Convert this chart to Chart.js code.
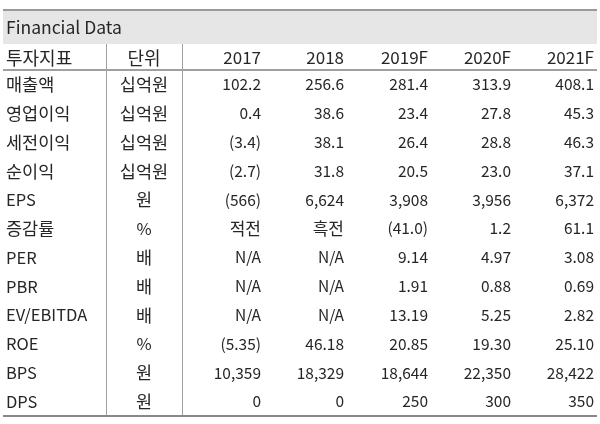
<!DOCTYPE html>
<html>
<head>
<meta charset="utf-8">
<script src="https://cdn.jsdelivr.net/npm/chart.js@4"></script>
<style>
  html, body { margin: 0; padding: 0; background: #ffffff; }
  #wrap { width: 600px; height: 424px; position: relative; }
</style>
</head>
<body>
<div id="wrap"><canvas id="c"></canvas></div>
<script>
// ---- data ----
const title = 'Financial Data';
const headerLabels = ['투자지표', '단위'];
const years = ['2017', '2018', '2019F', '2020F', '2021F'];
const metrics = ['매출액', '영업이익', '세전이익', '순이익', 'EPS', '증감률', 'PER', 'PBR', 'EV/EBITDA', 'ROE', 'BPS', 'DPS'];
const units = ['십억원', '십억원', '십억원', '십억원', '원', '%', '배', '배', '배', '%', '원', '원'];
const decimals = [1, 1, 1, 1, 0, 1, 2, 2, 2, 2, 0, 0];
const v2017 = [102.2, 0.4, -3.4, -2.7, -566, '적전', null, null, null, -5.35, 10359, 0];
const v2018 = [256.6, 38.6, 38.1, 31.8, 6624, '흑전', null, null, null, 46.18, 18329, 0];
const v2019F = [281.4, 23.4, 26.4, 20.5, 3908, -41.0, 9.14, 1.91, 13.19, 20.85, 18644, 250];
const v2020F = [313.9, 27.8, 28.8, 23.0, 3956, 1.2, 4.97, 0.88, 5.25, 19.30, 22350, 300];
const v2021F = [408.1, 45.3, 46.3, 37.1, 6372, 61.1, 3.08, 0.69, 2.82, 25.10, 28422, 350];
const seriesValues = [v2017, v2018, v2019F, v2020F, v2021F];

// ---- layout / style (not data) ----
const FONT = '"Noto Sans CJK KR", "Noto Sans", sans-serif';
const TEXT = '#262626';
const layoutX = { left: 3, right: 597, labelX: 6, unitCenter: 144, sep1: 106, sep2: 182, yearRight: [261, 344, 428, 511, 594] };
const HANGUL = /[\uac00-\ud7a3]/;

function fmt(v, d) {
  if (v === null) return 'N/A';
  if (typeof v === 'string') return v;
  const s = Math.abs(v).toLocaleString('en-US', { minimumFractionDigits: d, maximumFractionDigits: d });
  return v < 0 ? '(' + s + ')' : s;
}
function setFont(ctx, text, latinSize, hangulSize) {
  ctx.font = (HANGUL.test(text) ? hangulSize : latinSize) + 'px ' + FONT;
}

const tablePlugin = {
  id: 'tablePlugin',
  beforeDraw(chart) {
    const { ctx } = chart;
    ctx.save();
    ctx.fillStyle = '#ffffff';
    ctx.fillRect(0, 0, chart.width, chart.height);
    ctx.restore();
  },
  afterDraw(chart) {
    const { ctx, chartArea, scales } = chart;
    const x = scales.x, y = scales.y;
    const top = chartArea.top, bottom = chartArea.bottom;
    const L = x.getPixelForValue(layoutX.left), R = x.getPixelForValue(layoutX.right);
    const bandTop = top - 59, bandBottom = top - 26;
    ctx.save();
    ctx.fillStyle = '#e6e6e6';
    ctx.fillRect(L, bandTop, R - L, bandBottom - bandTop);
    ctx.fillStyle = '#999999';
    ctx.fillRect(L, bandTop - 2, R - L, 2);
    ctx.fillStyle = '#a0a0a0';
    ctx.fillRect(L, top - 1, R - L, 2);
    ctx.fillStyle = '#888888';
    ctx.fillRect(L, bottom - 1, R - L, 2);
    ctx.fillStyle = '#a0a0a0';
    [layoutX.sep1, layoutX.sep2].forEach(v => {
      const px = Math.round(x.getPixelForValue(v));
      ctx.fillRect(px, bandBottom, 1, bottom - bandBottom - 1);
    });

    ctx.fillStyle = TEXT;
    ctx.textBaseline = 'middle';
    ctx.font = '17.5px ' + FONT;
    ctx.textAlign = 'left';
    ctx.fillText(title, x.getPixelForValue(layoutX.labelX), (bandTop + bandBottom) / 2);
    const hy = (bandBottom + top) / 2 + 1;
    setFont(ctx, headerLabels[0], 17, 18);
    ctx.fillText(headerLabels[0], x.getPixelForValue(layoutX.labelX), hy);
    ctx.textAlign = 'center';
    ctx.fillText(headerLabels[1], x.getPixelForValue(layoutX.unitCenter), hy);
    ctx.textAlign = 'right';
    ctx.font = '17px ' + FONT;
    years.forEach((yr, j) => ctx.fillText(yr, x.getPixelForValue(layoutX.yearRight[j]), hy));
    metrics.forEach((m, i) => {
      const py = y.getPixelForValue(i);
      ctx.textAlign = 'left';
      setFont(ctx, m, 16.5, 17.5);
      ctx.fillText(m, x.getPixelForValue(layoutX.labelX), py);
      ctx.textAlign = 'center';
      setFont(ctx, units[i], 16.5, 17.5);
      ctx.fillText(units[i], x.getPixelForValue(layoutX.unitCenter), py);
      ctx.textAlign = 'right';
      seriesValues.forEach((vals, j) => {
        const s = fmt(vals[i], decimals[i]);
        setFont(ctx, s, 15.5, 17);
        ctx.fillText(s, x.getPixelForValue(layoutX.yearRight[j]), py);
      });
    });
    ctx.restore();
  }
};

new Chart(document.getElementById('c'), {
  type: 'scatter',
  data: {
    datasets: seriesValues.map((vals, j) => ({
      label: years[j],
      data: metrics.map((m, i) => ({ x: layoutX.yearRight[j], y: m })),
      pointRadius: 0,
      pointHoverRadius: 0
    }))
  },
  options: {
    responsive: true,
    maintainAspectRatio: false,
    animation: false,
    events: [],
    layout: { padding: { top: 70, bottom: 8, left: 0, right: 0 } },
    plugins: { legend: { display: false }, tooltip: { enabled: false } },
    scales: {
      x: { type: 'linear', min: 0, max: 600, display: false },
      y: { type: 'category', labels: metrics, offset: true, display: false }
    }
  },
  plugins: [tablePlugin]
});
</script>
</body>
</html>
